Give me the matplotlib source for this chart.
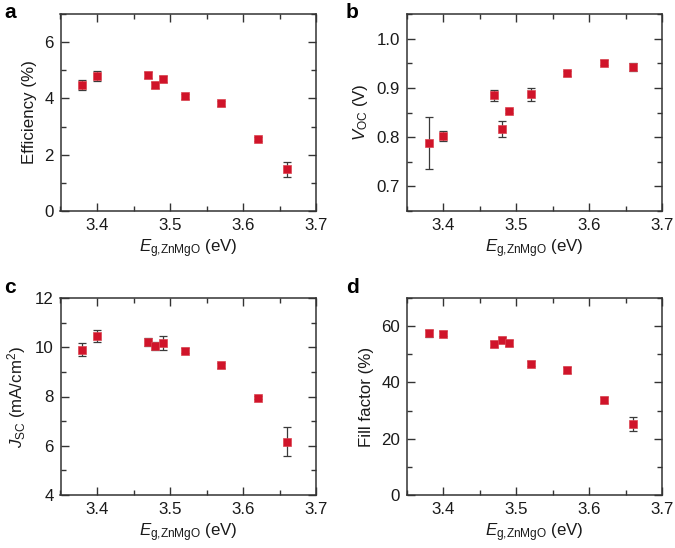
import numpy as np
import matplotlib
matplotlib.use("Agg")
import matplotlib.pyplot as plt
from matplotlib.ticker import MultipleLocator, FormatStrFormatter

plt.rcParams['font.family'] = ['Liberation Sans', 'DejaVu Sans']
plt.rcParams['mathtext.fontset'] = 'custom'
plt.rcParams['mathtext.rm'] = 'Liberation Sans'
plt.rcParams['mathtext.it'] = 'Liberation Sans:italic'

# band gap of ZnMgO layer (eV)
eg = [3.38, 3.40, 3.47, 3.48, 3.49, 3.52, 3.57, 3.62, 3.66]

# device parameters and error bars
eff = [4.47, 4.79, 4.83, 4.47, 4.69, 4.07, 3.82, 2.55, 1.48]
eff_err = [0.18, 0.17, 0.10, 0.10, 0.10, 0.08, 0.08, 0.08, 0.27]

voc = [0.788, 0.802, 0.885, 0.817, 0.853, 0.887, 0.930, 0.951, 0.942]
voc_err = [0.052, 0.010, 0.011, 0.016, 0.005, 0.013, 0.005, 0.005, 0.008]

jsc = [9.90, 10.45, 10.20, 10.05, 10.18, 9.86, 9.27, 7.95, 6.17]
jsc_err = [0.27, 0.24, 0.16, 0.18, 0.28, 0.10, 0.10, 0.07, 0.60]

ff = [57.4, 57.3, 53.6, 55.0, 54.0, 46.7, 44.4, 33.7, 25.3]
ff_err = [1.2, 0.8, 1.0, 1.0, 1.0, 1.0, 1.2, 1.0, 2.4]

panels = [
    ('a', eff, eff_err, 'Efficiency (%)', (0, 7), 2, 1, '%d'),
    ('b', voc, voc_err, r'$V_{\rm OC}$ (V)', (0.65, 1.05), 0.1, 0.05, '%.1f'),
    ('c', jsc, jsc_err, r'$J_{\rm SC}$ (mA/cm$^2$)', (4, 12), 2, 1, '%d'),
    ('d', ff, ff_err, 'Fill factor (%)', (0, 70), 20, 10, '%d'),
]

W, H = 675, 548
boxes = [  # left, top, right, bottom in pixels
    (60.5, 14, 316, 211),
    (407, 14, 662, 211),
    (60.5, 298, 316, 495),
    (407, 298, 662, 495),
]
label_pos = [(4, 18), (346, 18), (4, 293), (346, 293)]

spine_col = '#333333'
fs = 12.2

fig = plt.figure(figsize=(W / 100, H / 100), dpi=100)

for (name, y, yerr, ylab, ylim, major, minor, fmt), (l, t, r, b), (lx, ly) in zip(panels, boxes, label_pos):
    ax = fig.add_axes([l / W, 1 - b / H, (r - l) / W, (b - t) / H])
    ax.errorbar(eg, y, yerr=yerr, fmt='none', ecolor='#3a3a3a', elinewidth=0.9,
                capsize=3, capthick=0.9, zorder=2)
    ax.plot(eg, y, 's', color='#d0142a', markersize=6.4, markeredgecolor='#dc4450',
            markeredgewidth=0.5, zorder=3)
    ax.set_xlim(3.35, 3.7)
    ax.set_ylim(*ylim)
    ax.xaxis.set_major_locator(MultipleLocator(0.1))
    ax.xaxis.set_minor_locator(MultipleLocator(0.05))
    ax.yaxis.set_major_locator(MultipleLocator(major))
    ax.yaxis.set_minor_locator(MultipleLocator(minor))
    ax.yaxis.set_major_formatter(FormatStrFormatter(fmt))
    ax.xaxis.set_major_formatter(FormatStrFormatter('%.1f'))
    ax.tick_params(which='both', direction='in', top=True, right=True,
                   color=spine_col, labelsize=fs, labelcolor='#1a1a1a', width=1.0)
    ax.tick_params(which='major', length=6, pad=5)
    ax.tick_params(which='minor', length=3.5)
    for s in ax.spines.values():
        s.set_color(spine_col)
        s.set_linewidth(1.1)
    ax.set_xlabel(r'$E_{\rm g{,}ZnMgO}$ (eV)', fontsize=fs, color='#1a1a1a', labelpad=3)
    ax.set_ylabel(ylab, fontsize=fs, color='#1a1a1a', labelpad=5)
    fig.text(lx / W, 1 - ly / H, name, fontsize=15, fontweight='bold', va='baseline')

fig.savefig('out.png', dpi=100)
